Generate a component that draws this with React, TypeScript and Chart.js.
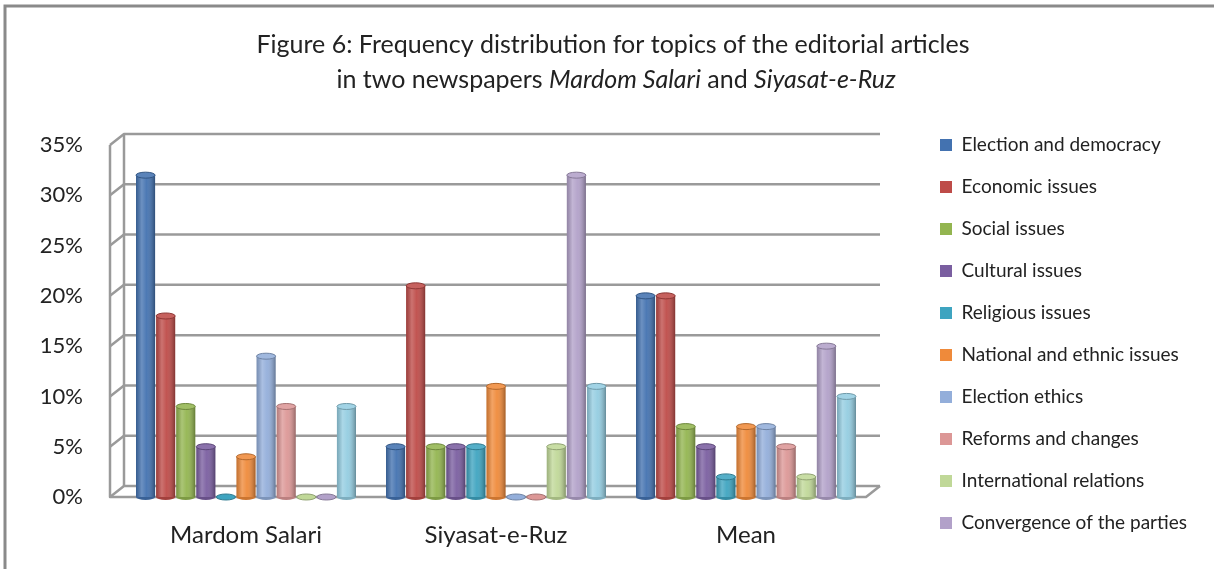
import React, { useEffect, useRef } from 'react';
import { Chart, registerables } from 'chart.js';

Chart.register(...registerables);

// ---------- data ----------
const categories = ['Mardom Salari', 'Siyasat-e-Ruz', 'Mean'];

const electionDemocracy = [32, 5, 20];
const economicIssues = [18, 21, 20];
const socialIssues = [9, 5, 7];
const culturalIssues = [5, 5, 5];
const religiousIssues = [0, 5, 2];
const nationalEthnic = [4, 11, 7];
const electionEthics = [14, 0, 7];
const reformsChanges = [9, 0, 5];
const internationalRelations = [0, 5, 2];
const convergenceParties = [0, 32, 15];
const otherTopics = [9, 11, 10];

const seriesNames = [
  'Election and democracy',
  'Economic issues',
  'Social issues',
  'Cultural issues',
  'Religious issues',
  'National and ethnic issues',
  'Election ethics',
  'Reforms and changes',
  'International relations',
  'Convergence of the parties',
  'Other',
];
const seriesValues = [
  electionDemocracy,
  economicIssues,
  socialIssues,
  culturalIssues,
  religiousIssues,
  nationalEthnic,
  electionEthics,
  reformsChanges,
  internationalRelations,
  convergenceParties,
  otherTopics,
];
const seriesColors = [
  '#4372B0',
  '#BE4B48',
  '#93B550',
  '#7A5EA0',
  '#3EA4C0',
  '#EF8A3A',
  '#93AEDA',
  '#DC9796',
  '#C0D898',
  '#B2A1C9',
  '#94CDE1',
];

const yMax = 35;
const yStep = 5;

const titleLine1 = 'Figure 6: Frequency distribution for topics of the editorial articles';
const titleLine2 = [
  { text: 'in two newspapers ', italic: false },
  { text: 'Mardom Salari', italic: true },
  { text: ' and ', italic: false },
  { text: 'Siyasat-e-Ruz', italic: true },
];

const FONT = 'Lato';
const TEXT_COLOR = '#222222';
const W = 1214;
const H = 569;
const AREA_RIGHT = 871;
const LEGEND_LEFT = 917;
const LEGEND_FONT = 19;
const LEGEND_PAD = 23;
const LEGEND_BOX = 12;
const TOP_PAD = 112.5;

function shade(hex: string, amt: number): string {
  const n = parseInt(hex.slice(1), 16);
  let r = (n >> 16) & 255, g = (n >> 8) & 255, b = n & 255;
  if (amt >= 0) {
    r = Math.round(r + (255 - r) * amt);
    g = Math.round(g + (255 - g) * amt);
    b = Math.round(b + (255 - b) * amt);
  } else {
    r = Math.round(r * (1 + amt));
    g = Math.round(g * (1 + amt));
    b = Math.round(b * (1 + amt));
  }
  return `rgb(${r},${g},${b})`;
}

const framePlugin = {
  id: 'frameAndTitle',
  beforeDraw(chart: any) {
    const ctx = chart.ctx;
    ctx.save();
    ctx.fillStyle = '#ffffff';
    ctx.fillRect(0, 0, W, H);
    ctx.strokeStyle = '#8a8a8a';
    ctx.lineWidth = 3;
    ctx.beginPath();
    ctx.moveTo(5, H);
    ctx.lineTo(5, 6);
    ctx.lineTo(W, 6);
    ctx.stroke();
    // title
    ctx.fillStyle = TEXT_COLOR;
    ctx.textBaseline = 'middle';
    ctx.textAlign = 'left';
    const size = 25;
    ctx.font = `${size}px ${FONT}`;
    const w1 = ctx.measureText(titleLine1).width;
    ctx.fillText(titleLine1, 613 - w1 / 2, 45);
    let total = 0;
    titleLine2.forEach((s) => {
      ctx.font = `${s.italic ? 'italic ' : ''}${size}px ${FONT}`;
      total += ctx.measureText(s.text).width;
    });
    let x = 616 - total / 2;
    titleLine2.forEach((s) => {
      ctx.font = `${s.italic ? 'italic ' : ''}${size}px ${FONT}`;
      ctx.fillText(s.text, x, 80);
      x += ctx.measureText(s.text).width;
    });
    ctx.restore();
  },
};

const wallPlugin = {
  id: 'walls3d',
  beforeDatasetsDraw(chart: any) {
    const ctx = chart.ctx;
    const y = chart.scales.y;
    const area = chart.chartArea;
    const L = area.left - 11;
    const R = area.right - 5;
    const dx = 14;
    const dy = -11;
    const y0 = y.getPixelForValue(0);
    const yTop = y.getPixelForValue(yMax);
    ctx.save();
    ctx.strokeStyle = '#9a9a9a';
    ctx.lineWidth = 2.5;
    ctx.lineJoin = 'round';
    y.ticks.forEach((t: any) => {
      const py = y.getPixelForValue(t.value);
      ctx.beginPath();
      ctx.moveTo(L, py);
      ctx.lineTo(L + dx, py + dy);
      ctx.lineTo(R + dx, py + dy);
      ctx.stroke();
    });
    ctx.beginPath();
    ctx.moveTo(L, yTop);
    ctx.lineTo(L, y0);
    ctx.lineTo(R, y0);
    ctx.lineTo(R + dx, y0 + dy);
    ctx.stroke();
    ctx.beginPath();
    ctx.moveTo(L + dx, yTop + dy);
    ctx.lineTo(L + dx, y0 + dy);
    ctx.stroke();
    ctx.restore();
  },
};

const cylinderPlugin = {
  id: 'cylinders',
  afterDatasetsDraw(chart: any) {
    const ctx = chart.ctx;
    ctx.save();
    chart.data.datasets.forEach((ds: any, di: number) => {
      const meta = chart.getDatasetMeta(di);
      if (meta.hidden) return;
      const color = seriesColors[di];
      meta.data.forEach((el: any) => {
        const { x, y, base, width } = el.getProps(['x', 'y', 'base', 'width'], true);
        const rx = width / 2;
        const ry = 3;
        const left = x - rx;
        if (base - y > 0.5) {
          const g = ctx.createLinearGradient(left, 0, left + width, 0);
          g.addColorStop(0, 'rgba(0,0,0,0.18)');
          g.addColorStop(0.3, 'rgba(255,255,255,0.22)');
          g.addColorStop(0.55, 'rgba(255,255,255,0.05)');
          g.addColorStop(1, 'rgba(0,0,0,0.32)');
          ctx.fillStyle = g;
          ctx.fillRect(left, y, width, base - y);
          ctx.beginPath();
          ctx.ellipse(x, base, rx, ry, 0, 0, Math.PI);
          ctx.fillStyle = shade(color, -0.15);
          ctx.fill();
          ctx.beginPath();
          ctx.ellipse(x, y, rx, ry, 0, 0, Math.PI * 2);
          ctx.fillStyle = shade(color, 0.12);
          ctx.fill();
          ctx.strokeStyle = shade(color, -0.25);
          ctx.lineWidth = 1;
          ctx.stroke();
        } else {
          ctx.beginPath();
          ctx.ellipse(x, base, rx, ry, 0, 0, Math.PI * 2);
          ctx.fillStyle = color;
          ctx.fill();
          ctx.strokeStyle = shade(color, -0.25);
          ctx.lineWidth = 1;
          ctx.stroke();
        }
      });
    });
    ctx.restore();
  },
};

function measureLegendWidth(): number {
  const c = document.createElement('canvas');
  const ctx = c.getContext('2d');
  if (!ctx) return 297;
  ctx.font = `${LEGEND_FONT}px ${FONT}`;
  let maxW = 0;
  seriesNames.slice(0, 10).forEach((n) => {
    maxW = Math.max(maxW, ctx.measureText(n).width);
  });
  return LEGEND_PAD + LEGEND_BOX + LEGEND_FONT / 2 + maxW + 10;
}

export default function App() {
  const canvasRef = useRef<HTMLCanvasElement | null>(null);

  useEffect(() => {
    if (!canvasRef.current) return;
    const legendW = measureLegendWidth();
    const padRight = Math.max(0, W - LEGEND_LEFT - legendW);
    const datasets = seriesNames.map((name, i) => ({
      label: name,
      data: seriesValues[i],
      backgroundColor: seriesColors[i],
      borderWidth: 0,
      xAxisID: 'x',
      yAxisID: 'y',
      categoryPercentage: 0.884,
      barPercentage: 0.95,
    }));
    const chart = new Chart(canvasRef.current, {
      type: 'bar',
      data: { labels: categories, datasets },
      plugins: [framePlugin, wallPlugin, cylinderPlugin],
      options: {
        responsive: false,
        animation: false,
        devicePixelRatio: 1,
        layout: { padding: { top: TOP_PAD, right: padRight, bottom: 0, left: 0 } },
        plugins: {
          title: { display: false },
          tooltip: { enabled: false },
          legend: {
            display: true,
            position: 'right',
            align: 'start',
            maxWidth: 400,
            labels: {
              font: { family: FONT, size: LEGEND_FONT },
              color: TEXT_COLOR,
              boxWidth: LEGEND_BOX,
              boxHeight: LEGEND_BOX,
              padding: LEGEND_PAD,
              filter: (item: any) => item.datasetIndex < 10,
            },
          },
        },
        scales: {
          x: {
            type: 'category',
            position: 'bottom',
            grid: { display: false, drawTicks: false },
            border: { display: false },
            ticks: { font: { family: FONT, size: 24 }, color: TEXT_COLOR, padding: 24 },
            afterFit: (s: any) => { s.height = 72; },
          },
          xTop: {
            type: 'category',
            position: 'top',
            labels: categories,
            grid: { display: false, drawTicks: false },
            border: { display: false },
            ticks: { display: false },
            afterFit: (s: any) => { s.height = 145 - TOP_PAD; },
          },
          y: {
            type: 'linear',
            position: 'left',
            min: 0,
            max: yMax,
            grid: { display: false, drawTicks: false },
            border: { display: false },
            ticks: {
              stepSize: yStep,
              font: { family: FONT, size: 22 },
              color: TEXT_COLOR,
              padding: 38,
              callback: (v: any) => `${v}%`,
            },
            afterFit: (s: any) => { s.width = 121; },
          },
          yRight: {
            type: 'linear',
            position: 'right',
            grid: { display: false, drawTicks: false },
            border: { display: false },
            ticks: { display: false },
            afterFit: (s: any) => {
              const lg = s.chart.legend;
              const lw = lg && lg.width ? lg.width : legendW;
              s.width = Math.max(0, W - padRight - lw - AREA_RIGHT);
            },
          },
        },
      },
    });
    return () => chart.destroy();
  }, []);

  return (
    <div style={{ position: 'absolute', left: 0, top: 0, width: W, height: H, background: '#fff' }}>
      <canvas ref={canvasRef} width={W} height={H} style={{ display: 'block', width: W, height: H }} />
    </div>
  );
}
